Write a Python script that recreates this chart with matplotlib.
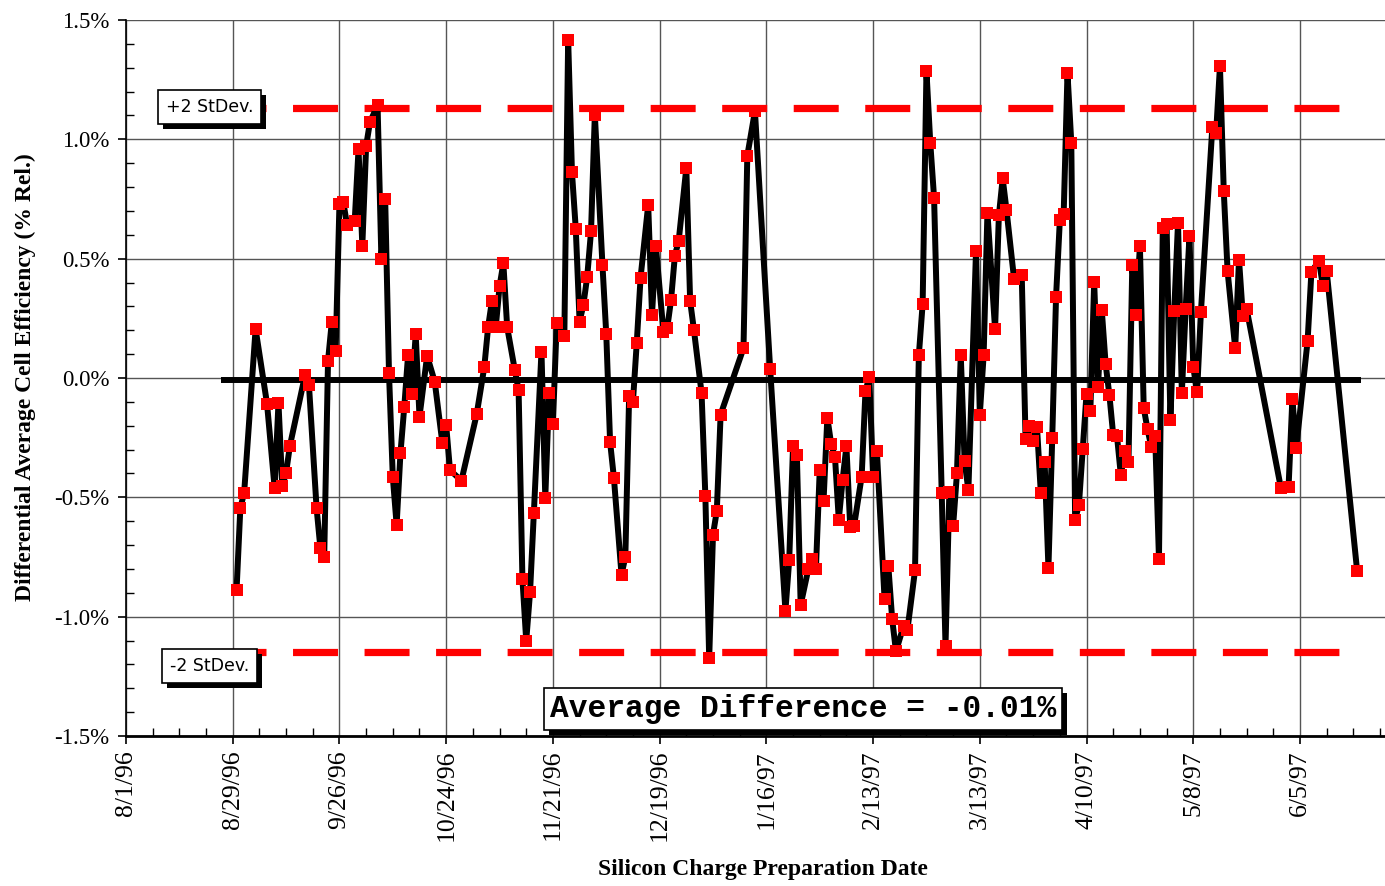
import datetime as dt

import numpy as np
import matplotlib
matplotlib.use("Agg")
import matplotlib.pyplot as plt
from matplotlib.patches import Rectangle
from matplotlib.ticker import FixedLocator, MultipleLocator, FixedFormatter

plt.rcParams["lines.scale_dashes"] = False

START = dt.date(1996, 8, 1)

# charge preparation date, as days after 8/1/96
day_offset = [
    29, 30, 31, 34, 37, 39, 40, 41, 42, 43, 47, 48, 50, 51, 52, 53, 54, 55, 56, 57,
    58, 60, 61, 62, 63, 64, 66, 67, 68, 69, 70, 71, 72, 73, 74, 75, 76, 77, 79, 81,
    83, 84, 85, 88, 92, 94, 95, 96, 97, 98, 99, 100, 102, 103, 104, 105, 106, 107, 109, 110,
    111, 112, 113, 115, 116, 117, 118, 119, 120, 121, 122, 123, 125, 126, 127, 128, 130, 131, 132, 133,
    134, 135, 137, 138, 139, 141, 142, 143, 144, 145, 147, 148, 149, 151, 152, 153, 154, 155, 156, 162,
    163, 165, 169, 173, 174, 175, 176, 177, 179, 180, 181, 182, 183, 184, 185, 186, 187, 188, 189, 190,
    191, 193, 194, 195, 196, 197, 199, 200, 201, 202, 204, 205, 207, 208, 209, 210, 211, 212, 214, 215,
    216, 217, 218, 219, 220, 221, 223, 224, 225, 226, 228, 229, 230, 231, 233, 235, 236, 237, 238, 239,
    240, 241, 242, 243, 244, 245, 246, 247, 248, 249, 250, 251, 252, 253, 254, 255, 256, 257, 258, 259,
    260, 261, 262, 263, 264, 265, 266, 267, 268, 269, 270, 271, 272, 273, 274, 275, 276, 277, 278, 279,
    280, 281, 282, 285, 286, 287, 288, 289, 291, 292, 293, 294, 303, 305, 306, 307, 310, 311, 313, 314,
    315, 323,
]

# differential average cell efficiency, % rel.
diff_pct = [
    -0.89, -0.545, -0.48, 0.205, -0.108, -0.462, -0.104, -0.453, -0.397, -0.284, 0.014, -0.03, -0.545, -0.713, -0.75, 0.072, 0.236, 0.113, 0.73, 0.739,
    0.64, 0.658, 0.958, 0.554, 0.972, 1.072, 1.143, 0.50, 0.748, 0.019, -0.416, -0.615, -0.316, -0.122, 0.095, -0.065, 0.183, -0.162, 0.093, -0.016,
    -0.272, -0.198, -0.386, -0.43, -0.152, 0.046, 0.213, 0.323, 0.213, 0.384, 0.481, 0.213, 0.034, -0.051, -0.841, -1.101, -0.898, -0.566, 0.111, -0.501,
    -0.063, -0.192, 0.231, 0.178, 1.418, 0.862, 0.624, 0.236, 0.307, 0.425, 0.614, 1.104, 0.473, 0.183, -0.268, -0.418, -0.824, -0.75, -0.074, -0.099,
    0.148, 0.421, 0.725, 0.266, 0.554, 0.192, 0.21, 0.328, 0.513, 0.575, 0.88, 0.323, 0.201, -0.063, -0.496, -1.175, -0.656, -0.557, -0.153, 0.125,
    0.931, 1.118, 0.037, -0.975, -0.762, -0.284, -0.321, -0.951, -0.801, -0.757, -0.801, -0.386, -0.515, -0.166, -0.277, -0.33, -0.594, -0.427, -0.286, -0.624,
    -0.621, -0.413, -0.056, 0.005, -0.413, -0.307, -0.924, -0.788, -1.009, -1.145, -1.039, -1.056, -0.806, 0.095, 0.31, 1.286, 0.986, 0.755, -0.48, -1.122,
    -0.478, -0.619, -0.40, 0.095, -0.346, -0.471, 0.531, -0.153, 0.095, 0.693, 0.205, 0.681, 0.836, 0.704, 0.413, 0.43, -0.254, -0.201, -0.266, -0.205,
    -0.48, -0.351, -0.795, -0.25, 0.34, 0.663, 0.688, 1.277, 0.986, -0.594, -0.531, -0.298, -0.065, -0.139, 0.402, -0.039, 0.284, 0.06, -0.072, -0.24,
    -0.245, -0.407, -0.307, -0.351, 0.473, 0.266, 0.554, -0.125, -0.215, -0.289, -0.242, -0.757, 0.628, 0.646, -0.178, 0.28, 0.651, -0.063, 0.289, 0.593,
    0.046, -0.06, 0.275, 1.051, 1.028, 1.307, 0.783, 0.448, 0.125, 0.496, 0.261, 0.289, -0.462, -0.457, -0.086, -0.295, 0.157, 0.446, 0.49, 0.386,
    0.448, -0.81,
]

tick_labels = ["8/1/96", "8/29/96", "9/26/96", "10/24/96", "11/21/96", "12/19/96",
               "1/16/97", "2/13/97", "3/13/97", "4/10/97", "5/8/97", "6/5/97"]
y_labels = ["-1.5%", "-1.0%", "-0.5%", "0.0%", "0.5%", "1.0%", "1.5%"]
y_ticks = [-1.5, -1.0, -0.5, 0.0, 0.5, 1.0, 1.5]

avg_diff = -0.01
plus_2sd = 1.13
minus_2sd = -1.15
ref_line_days = (25, 324)


def to_num(days):
    return START.toordinal() + np.asarray(days, dtype=float)


fig = plt.figure(figsize=(13.85, 8.86), dpi=100)
ax = fig.add_axes([126 / 1385, 150 / 886, 1259 / 1385, 716 / 886])

serif = "Liberation Serif"

x = to_num(day_offset)
xr = to_num(ref_line_days)

ax.plot(xr, [plus_2sd] * 2, color="#ff0000", lw=5.2, dashes=(32.4, 19.1), zorder=3)
ax.plot(xr, [minus_2sd] * 2, color="#ff0000", lw=5.2, dashes=(32.4, 19.1), zorder=3)
ax.plot(xr, [avg_diff] * 2, color="black", lw=4.3, solid_capstyle="butt", zorder=4)
ax.plot(x, diff_pct, color="black", lw=4.3, zorder=5,
        marker="s", ms=8.8, mfc="#ff0000", mec="#ff0000", mew=0)

major_x = [dt.datetime.strptime(s, "%m/%d/%y").date().toordinal() for s in tick_labels]
ax.set_xlim(START.toordinal(), START.toordinal() + 330.3)
ax.set_ylim(-1.5, 1.5)
ax.xaxis.set_major_locator(FixedLocator(major_x))
ax.xaxis.set_major_formatter(FixedFormatter(tick_labels))
ax.xaxis.set_minor_locator(FixedLocator(np.arange(major_x[0], major_x[0] + 336, 7)))
ax.yaxis.set_major_locator(FixedLocator(y_ticks))
ax.yaxis.set_major_formatter(FixedFormatter(y_labels))
ax.yaxis.set_minor_locator(MultipleLocator(0.1))

ax.tick_params(which="major", direction="out", length=6, width=1.2, color="black")
ax.tick_params(which="minor", direction="in", length=6, width=1.0, color="black")
ax.tick_params(axis="y", which="major", pad=6)
ax.tick_params(axis="x", which="major", pad=4)
for lab in ax.get_xticklabels():
    lab.set_rotation(90)
    lab.set_fontfamily(serif)
    lab.set_fontsize(18.5)
for lab in ax.get_yticklabels():
    lab.set_fontfamily(serif)
    lab.set_fontsize(16.5)

ax.grid(True, which="major", color="#555555", lw=1.0, zorder=1)
ax.spines["top"].set_visible(False)
ax.spines["right"].set_visible(False)
ax.spines["left"].set_linewidth(1.2)
ax.spines["bottom"].set_linewidth(2.0)

boxes = []


def shadow_box(xd, yd, text, fs, family, weight="normal", pad=0.3):
    t = ax.text(xd, yd, text, ha="center", va="center",
                fontsize=fs, family=family, weight=weight, color="black", zorder=8,
                bbox=dict(boxstyle=f"square,pad={pad}", fc="white", ec="black", lw=1.2))
    boxes.append(t)


shadow_box(to_num(22), 1.135, "+2 StDev.", 12.5, "DejaVu Sans", pad=0.45)
shadow_box(to_num(22), -1.207, "-2 StDev.", 12.5, "DejaVu Sans", pad=0.45)
shadow_box(to_num(177.6), -1.387, "Average Difference = -0.01%", 22.5,
           "Liberation Mono", weight="bold", pad=0.2)

fig.text(25 / 1385, 1 - 377 / 886, "Differential Average Cell Efficiency (% Rel.)",
         rotation=90, ha="center", va="center", fontsize=17,
         fontweight="bold", family=serif)
fig.text(763 / 1385, 1 - 870 / 886, "Silicon Charge Preparation Date",
         ha="center", va="center", fontsize=17, fontweight="bold", family=serif)

# drop shadows behind the text boxes, offset down and right
fig.canvas.draw()
renderer = fig.canvas.get_renderer()
to_fig = fig.transFigure.inverted()
for t in boxes:
    bb = t.get_bbox_patch().get_window_extent(renderer)
    (x0, y0), (x1, y1) = to_fig.transform([[bb.x0 + 5, bb.y0 - 5], [bb.x1 + 5, bb.y1 - 5]])
    ax.add_patch(Rectangle((x0, y0), x1 - x0, y1 - y0, transform=fig.transFigure,
                           fc="black", ec="none", zorder=7, clip_on=False))

fig.savefig("out.png", dpi=100)
